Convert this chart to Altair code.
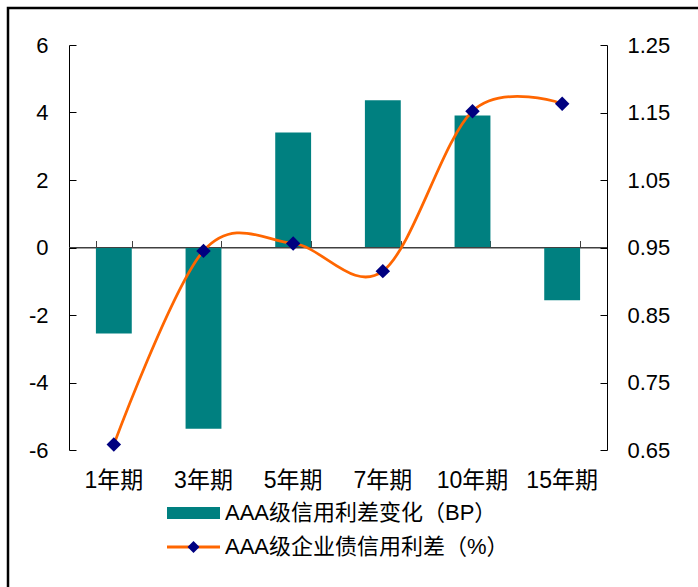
import altair as alt
import pandas as pd

# Tenors and the two series
terms = ['1年期', '3年期', '5年期', '7年期', '10年期', '15年期']
bp_change = [-2.55, -5.37, 3.41, 4.36, 3.91, -1.56]
spread_pct = [0.658, 0.945, 0.956, 0.915, 1.152, 1.163]

bar_name = 'AAA级信用利差变化（BP）'
line_name = 'AAA级企业债信用利差（%）'

left_ticks = [-6, -4, -2, 0, 2, 4, 6]
right_ticks = [0.65, 0.75, 0.85, 0.95, 1.05, 1.15, 1.25]
zero_level = [0]

df = pd.DataFrame({
    'term': terms,
    'bp': bp_change,
    'spread': spread_pct,
    'bar_series': bar_name,
    'line_series': line_name,
})
zero_df = pd.DataFrame({'level': zero_level})

W, H = 538, 405
FONT = 'Liberation Sans, Arial, Noto Sans CJK SC'
TEAL = '#008080'
NAVY = '#000080'
ORANGE = '#FF6600'
Y_FONT = 22
X_FONT = 23
LEGEND_FONT = 22

x_scale = alt.Scale(domain=terms, paddingInner=0.6, paddingOuter=0.3)
left_scale = alt.Scale(domain=[-6, 6], nice=False, zero=False)
right_scale = alt.Scale(domain=[0.65, 1.25], nice=False, zero=False)

base = alt.Chart(df)

# bars on the left axis, with tenor labels along the bottom
bars = base.mark_bar().encode(
    x=alt.X('term:N', sort=terms, scale=x_scale, title=None,
            axis=alt.Axis(orient='bottom', domain=False, ticks=False, labelAngle=0,
                          labelPadding=19, labelFontSize=X_FONT)),
    y=alt.Y('bp:Q', scale=left_scale, title=None,
            axis=alt.Axis(orient='left', values=left_ticks, ticks=False, grid=False,
                          domainColor='black', labelPadding=21, labelFontSize=Y_FONT,
                          labelExpr="'' + datum.value")),
    color=alt.Color('bar_series:N', scale=alt.Scale(domain=[bar_name], range=[TEAL]),
                    legend=alt.Legend(title=None, orient='none', legendX=98, legendY=441.5,
                                      symbolType='M-1,-0.226H1V0.226H-1Z', symbolSize=2809,
                                      symbolStrokeWidth=0, labelOffset=5, labelLimit=0)),
)

# smoothed spread line on the right axis; its x axis sits on the zero line
line = base.mark_line(interpolate='cardinal', strokeWidth=2.75).encode(
    x=alt.X('term:N', sort=terms, title=None,
            axis=alt.Axis(orient='top', offset=-H / 2, tickBand='extent', labels=False,
                          domainColor='#404040', tickColor='#404040', tickSize=7, grid=False)),
    y=alt.Y('spread:Q', scale=right_scale, title=None,
            axis=alt.Axis(orient='right', values=right_ticks, format='.2f', ticks=False,
                          grid=False, domainColor='black', labelPadding=20,
                          labelFontSize=Y_FONT)),
    stroke=alt.Stroke('line_series:N', scale=alt.Scale(domain=[line_name], range=[ORANGE]),
                      legend=alt.Legend(title=None, orient='none', legendX=96.5, legendY=474,
                                        symbolType='M-1,0H1', symbolSize=2809,
                                        symbolStrokeWidth=3, labelOffset=3.5, labelLimit=0)),
)

# diamond markers; their axis draws the inward ticks of the right axis
points = base.mark_point(shape='diamond', filled=True, size=210, opacity=1).encode(
    x=alt.X('term:N', sort=terms, axis=None),
    y=alt.Y('spread:Q', scale=right_scale, title=None,
            axis=alt.Axis(orient='left', offset=-W, values=right_ticks, labels=False,
                          domain=False, tickSize=7, tickColor='black', grid=False)),
    fill=alt.Fill('line_series:N', scale=alt.Scale(domain=[line_name], range=[NAVY]),
                  legend=alt.Legend(title=None, orient='none', legendX=118.5, legendY=496,
                                    symbolType='diamond', symbolSize=144,
                                    symbolStrokeWidth=0, labelExpr="''", labelFontSize=1)),
)

# zero line; its axis draws the inward ticks of the left axis
zero = alt.Chart(zero_df).mark_rule(color='#404040', strokeWidth=1).encode(
    y=alt.Y('level:Q', scale=left_scale, title=None,
            axis=alt.Axis(orient='right', offset=-W, values=left_ticks, labels=False,
                          domain=False, tickSize=7, tickColor='black', grid=False)),
)

# outer frame
frame = alt.Chart(zero_df).mark_rect(fill='transparent', stroke='black', strokeWidth=2.5).encode(
    x=alt.value(8 - 69), y=alt.value(8 - 45), x2=alt.value(W + 200), y2=alt.value(H + 300),
)

chart = (
    alt.layer(bars, zero, line, points, frame)
    .resolve_scale(y='independent', color='independent', stroke='independent', fill='independent')
    .resolve_axis(x='independent', y='independent')
    .resolve_legend(color='independent', stroke='independent', fill='independent')
    .properties(
        width=W, height=H,
        padding={'left': 69, 'top': 45, 'right': 91, 'bottom': 137},
        autosize=alt.AutoSizeParams(type='none'),
        background='white',
    )
    .configure_view(strokeWidth=0)
    .configure_axis(labelFont=FONT, labelColor='black', domainWidth=1)
    .configure_legend(labelFont=FONT, labelFontSize=LEGEND_FONT, labelColor='black', padding=0)
)

chart.save('out.html', embed_options={'renderer': 'svg', 'actions': False})
